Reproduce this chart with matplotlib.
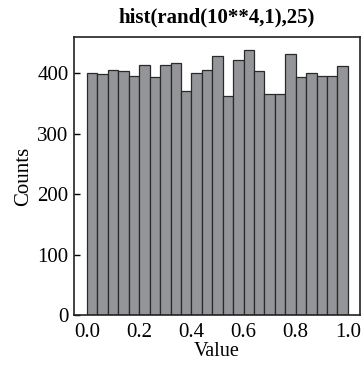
import numpy as np
import matplotlib.pyplot as plt

plt.rcParams["font.family"] = ["Liberation Serif", "DejaVu Serif"]

# 25 equal bins on [0, 1], counts
bin_edges = np.linspace(0.0, 1.0, 26)
counts = [400, 398, 406, 404, 395, 414, 393, 414, 416, 370,
          400, 406, 428, 363, 421, 438, 404, 366, 365, 432,
          393, 400, 395, 395, 411]
xticks = [0.0, 0.2, 0.4, 0.6, 0.8, 1.0]
yticks = [0, 100, 200, 300, 400]

fig = plt.figure(figsize=(3.61, 3.65), dpi=100)
ax = fig.add_axes([0.205, 0.137, 0.792, 0.762])

ax.hist(bin_edges[:-1], bins=bin_edges, weights=counts,
        color="#939598", edgecolor="#2a2a2a", linewidth=0.9)

ax.set_xlim(-0.05, 1.046)
ax.set_ylim(0, 460)
ax.set_xticks(xticks)
ax.set_xticklabels([f"{t:.1f}" for t in xticks])
ax.set_yticks(yticks)
ax.tick_params(direction="in", length=4, width=1, labelsize=15, pad=4)
ax.tick_params(axis="x", length=0, pad=6)
for s in ax.spines.values():
    s.set_linewidth(1.2)
    s.set_color("#222222")

ax.set_title("hist(rand(10**4,1),25)", fontsize=15, fontweight="bold", pad=10)
ax.set_xlabel("Value", fontsize=14.5, labelpad=0)
ax.set_ylabel("Counts", fontsize=15, labelpad=3)

fig.savefig("out.png", dpi=100)
